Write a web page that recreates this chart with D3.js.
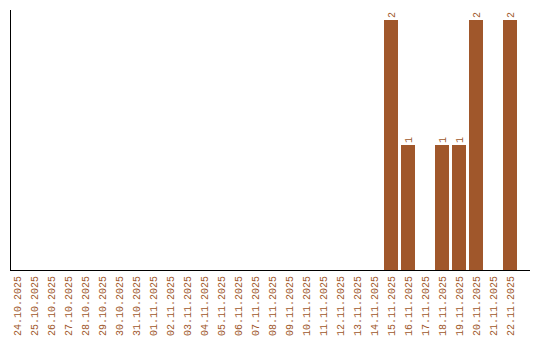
<!DOCTYPE html>
<html>
<head>
<meta charset="utf-8">
<script src="https://cdn.jsdelivr.net/npm/d3@7"></script>
<style>
  body { margin: 0; background: #fff; overflow: hidden; }
</style>
</head>
<body>
<script>
const days = [
    "24.10.2025", "25.10.2025", "26.10.2025", "27.10.2025", "28.10.2025", "29.10.2025",
    "30.10.2025", "31.10.2025", "01.11.2025", "02.11.2025", "03.11.2025", "04.11.2025",
    "05.11.2025", "06.11.2025", "07.11.2025", "08.11.2025", "09.11.2025", "10.11.2025",
    "11.11.2025", "12.11.2025", "13.11.2025", "14.11.2025", "15.11.2025", "16.11.2025",
    "17.11.2025", "18.11.2025", "19.11.2025", "20.11.2025", "21.11.2025", "22.11.2025"
];
const counts = [
    0, 0, 0, 0, 0, 0,
    0, 0, 0, 0, 0, 0,
    0, 0, 0, 0, 0, 0,
    0, 0, 0, 0, 2, 1,
    0, 1, 1, 2, 0, 2
];

const items = days.map((d, i) => ({label: d, value: counts[i]}));

const width = 540, height = 340;
const margin = {top: 10, right: 530, bottom: 270, left: 10};
const barColor = "#a0572b";
const font = '"Liberation Mono", monospace';

const svg = d3.select("body").append("svg")
    .attr("width", width)
    .attr("height", height);

const xScale = d3.scaleBand()
    .domain(days)
    .range([margin.left, margin.left + 17 * days.length - 3])
    .paddingInner(3 / 17)
    .paddingOuter(0);

const yScale = d3.scaleLinear()
    .domain([0, d3.max(counts)])
    .range([margin.bottom, 20]);

// bars
const bars = svg.append("g").attr("class", "box")
    .selectAll("g")
    .data(items.filter((d) => d.value > 0))
    .enter().append("g");

bars.append("rect")
    .attr("x", (d) => xScale(d.label))
    .attr("y", (d) => yScale(d.value))
    .attr("width", xScale.bandwidth())
    .attr("height", (d) => margin.bottom - yScale(d.value))
    .attr("fill", barColor);

bars.append("text")
    .attr("transform", (d) => "translate(" + (xScale(d.label) + xScale.bandwidth() / 2) + "," + (yScale(d.value) - 2) + ") rotate(-90)")
    .attr("dy", "0.35em")
    .attr("text-anchor", "start")
    .attr("fill", barColor)
    .style("font-family", font)
    .style("font-size", "10px")
    .text((d) => d.value);

// axes
const xAxis = d3.axisBottom(xScale).tickSize(0).tickPadding(0);
const gx = svg.append("g")
    .attr("class", "xaxis")
    .attr("transform", "translate(0," + margin.bottom + ")")
    .call(xAxis);
gx.select(".domain").remove();
gx.selectAll("text")
    .attr("transform", "translate(0,6) rotate(-90)")
    .attr("x", 0)
    .attr("y", 0)
    .attr("dy", "0.35em")
    .attr("text-anchor", "end")
    .attr("fill", barColor)
    .style("font-family", font)
    .style("font-size", "10px");

svg.append("line")
    .attr("x1", margin.left + 0.5).attr("x2", margin.left + 0.5)
    .attr("y1", margin.top).attr("y2", margin.bottom + 0.5)
    .attr("stroke", "#000");
svg.append("line")
    .attr("x1", margin.left).attr("x2", margin.right)
    .attr("y1", margin.bottom + 0.5).attr("y2", margin.bottom + 0.5)
    .attr("stroke", "#000");
</script>
</body>
</html>
